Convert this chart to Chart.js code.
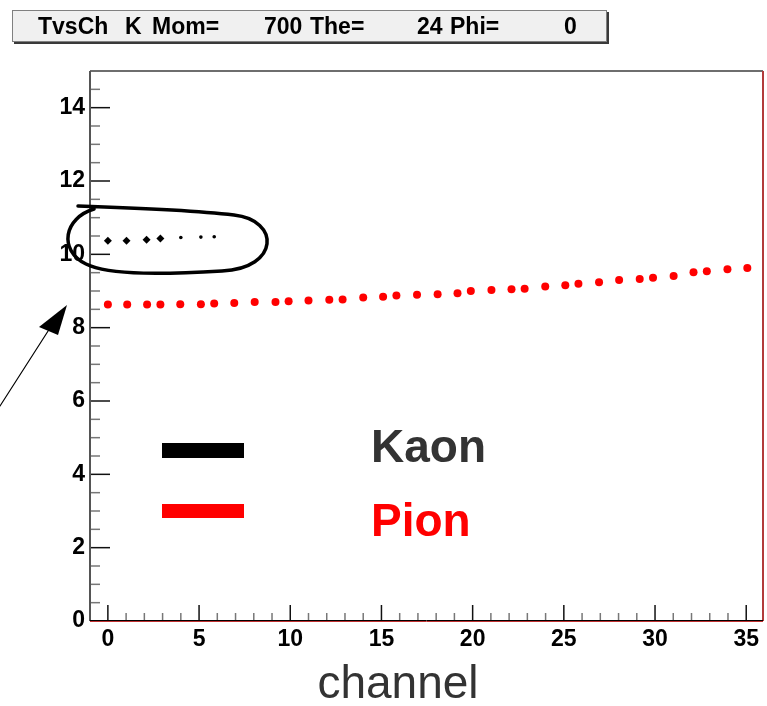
<!DOCTYPE html>
<html>
<head>
<meta charset="utf-8">
<script src="https://cdn.jsdelivr.net/npm/chart.js@4"></script>
<style>
  html, body { margin: 0; padding: 0; background: #fff; }
  #wrap { position: relative; width: 767px; height: 706px; }
  #title { position: absolute; left: 12px; top: 10px; width: 593px; height: 30px;
           background: #f0f0f0; border: 1px solid #808080; box-shadow: 2px 2px 0 #3a3a3a;
           font: bold 23px "Liberation Sans", Arial, sans-serif; color: #000; }
  #title span { position: absolute; top: 2px; }
</style>
</head>
<body>
<div id="wrap">
  <canvas id="c" width="767" height="706"></canvas>
  <div id="title">
    <span style="left:25px">TvsCh</span>
    <span style="left:112px">K</span>
    <span style="left:139px">Mom=</span>
    <span style="left:251px">700</span>
    <span style="left:297px">The=</span>
    <span style="left:404px">24</span>
    <span style="left:437px">Phi=</span>
    <span style="left:551px">0</span>
  </div>
</div>
<script>
// --- données ---
const kaonX = [0, 1.02, 2.12, 2.88, 4.0, 5.1, 5.83];
const kaonY = [10.37, 10.37, 10.40, 10.43, 10.46, 10.47, 10.48];

const pionX = [0, 1.06, 2.15, 2.88, 3.97, 5.10, 5.83, 6.93, 8.05, 9.19, 9.91, 11.0,
               12.14, 12.87, 14.0, 15.09, 15.82, 16.95, 18.08, 19.17, 19.9, 21.03, 22.13, 22.85,
               23.98, 25.08, 25.8, 26.93, 28.03, 29.16, 29.89, 31.02, 32.11, 32.84, 33.97, 35.06];
const pionY = [8.63, 8.63, 8.63, 8.63, 8.64, 8.64, 8.66, 8.67, 8.70, 8.70, 8.72, 8.74,
               8.76, 8.77, 8.82, 8.84, 8.88, 8.90, 8.91, 8.94, 9.00, 9.03, 9.05, 9.06,
               9.12, 9.16, 9.20, 9.24, 9.30, 9.33, 9.36, 9.41, 9.51, 9.54, 9.59, 9.63];

const xTicks = [0, 5, 10, 15, 20, 25, 30, 35];
const yTicks = [0, 2, 4, 6, 8, 10, 12, 14];
const seriesNames = ['Kaon', 'Pion'];
const xLabel = 'channel';

const toPts = (xs, ys) => xs.map((x, i) => ({ x: x, y: ys[i] }));

// ticks vers l'intérieur + cadre, façon ROOT
const frameTicks = {
  id: 'frameTicks',
  afterDraw(chart) {
    const ctx = chart.ctx, a = chart.chartArea;
    const xs = chart.scales.x, ys = chart.scales.y;
    ctx.save();
    ctx.lineWidth = 1.5;
    for (let v = 0; v <= 35; v++) {
      const p = xs.getPixelForValue(v);
      const major = v % 5 === 0;
      ctx.strokeStyle = major ? '#111' : '#777';
      ctx.beginPath(); ctx.moveTo(p, a.bottom); ctx.lineTo(p, a.bottom - (major ? 16 : 8)); ctx.stroke();
    }
    for (let v = 0; v <= 15; v += 0.5) {
      const p = ys.getPixelForValue(v);
      const major = v % 2 === 0;
      ctx.strokeStyle = major ? '#111' : '#777';
      ctx.beginPath(); ctx.moveTo(a.left, p); ctx.lineTo(a.left + (major ? 20 : 10), p); ctx.stroke();
    }
    // cadre
    ctx.lineWidth = 2;
    ctx.strokeStyle = '#6e6e6e';
    ctx.beginPath(); ctx.moveTo(a.left, a.top); ctx.lineTo(a.right, a.top); ctx.stroke();
    ctx.strokeStyle = '#555';
    ctx.beginPath(); ctx.moveTo(a.left, a.top); ctx.lineTo(a.left, a.bottom); ctx.stroke();
    ctx.strokeStyle = '#b23a3a';
    ctx.beginPath(); ctx.moveTo(a.right, a.top); ctx.lineTo(a.right, a.bottom); ctx.stroke();
    ctx.lineWidth = 1;
    ctx.strokeStyle = '#000';
    ctx.beginPath(); ctx.moveTo(a.left, a.bottom - 0.5); ctx.lineTo(a.right, a.bottom - 0.5); ctx.stroke();
    ctx.strokeStyle = '#c03030';
    ctx.beginPath(); ctx.moveTo(a.left, a.bottom + 0.5); ctx.lineTo(a.right, a.bottom + 0.5); ctx.stroke();

    // titre de l'axe x
    ctx.fillStyle = '#333';
    ctx.font = '46px "Liberation Sans", Arial, sans-serif';
    ctx.textAlign = 'center';
    ctx.textBaseline = 'alphabetic';
    ctx.fillText(xLabel, 398, 698);

    // légende manuelle
    ctx.fillStyle = '#000';
    ctx.fillRect(162, 443, 82, 15);
    ctx.fillStyle = '#ff0000';
    ctx.fillRect(162, 504, 82, 14);
    ctx.font = 'bold 46px "Liberation Sans", Arial, sans-serif';
    ctx.textAlign = 'left';
    ctx.fillStyle = '#333';
    ctx.fillText(seriesNames[0], 371, 462);
    ctx.fillStyle = '#ff0000';
    ctx.fillText(seriesNames[1], 371, 536);

    // annotations à la main : ellipse + flèche
    ctx.strokeStyle = '#000';
    ctx.lineWidth = 3.5;
    ctx.lineCap = 'round';
    ctx.beginPath();
    ctx.moveTo(78, 206);
    ctx.bezierCurveTo(140, 208, 200, 211, 234, 215);
    ctx.bezierCurveTo(280, 220, 280, 268, 222, 271);
    ctx.bezierCurveTo(170, 274, 110, 276, 86, 264);
    ctx.bezierCurveTo(58, 250, 64, 218, 94, 209);
    ctx.stroke();

    ctx.lineWidth = 1.2;
    ctx.beginPath(); ctx.moveTo(0, 406); ctx.lineTo(50, 328); ctx.stroke();
    ctx.fillStyle = '#000';
    ctx.beginPath(); ctx.moveTo(67, 305); ctx.lineTo(39, 327); ctx.lineTo(58, 335); ctx.closePath(); ctx.fill();
    ctx.restore();
  }
};

new Chart(document.getElementById('c'), {
  type: 'scatter',
  data: {
    datasets: [
      { label: seriesNames[0], data: toPts(kaonX, kaonY), backgroundColor: '#000', borderWidth: 0,
        pointStyle: ctx => ctx.dataIndex < 4 ? 'rectRot' : 'circle',
        pointRadius: ctx => ctx.dataIndex < 4 ? 4 : 1.8 },
      { label: seriesNames[1], data: toPts(pionX, pionY), backgroundColor: '#ff0000', borderWidth: 0,
        pointRadius: 4 }
    ]
  },
  options: {
    responsive: false,
    animation: false,
    layout: { padding: { top: 71, right: 2, left: 0, bottom: 0 } },
    plugins: { legend: { display: false }, tooltip: { enabled: false } },
    scales: {
      x: {
        type: 'linear', min: -0.98, max: 35.92,
        grid: { display: false, drawTicks: false }, border: { display: false },
        afterBuildTicks: s => { s.ticks = xTicks.map(v => ({ value: v })); },
        afterFit: s => { s.height = 85; },
        ticks: { color: '#000', padding: 5, maxRotation: 0, autoSkip: false,
                 font: { family: '"Liberation Sans", Arial, sans-serif', size: 23, weight: 'bold' } }
      },
      y: {
        type: 'linear', min: 0, max: 15,
        grid: { display: false, drawTicks: false }, border: { display: false },
        afterBuildTicks: s => { s.ticks = yTicks.map(v => ({ value: v })); },
        afterFit: s => { s.width = 90; },
        ticks: { color: '#000', padding: 5,
                 font: { family: '"Liberation Sans", Arial, sans-serif', size: 23, weight: 'bold' } }
      }
    }
  },
  plugins: [frameTicks]
});
</script>
</body>
</html>
